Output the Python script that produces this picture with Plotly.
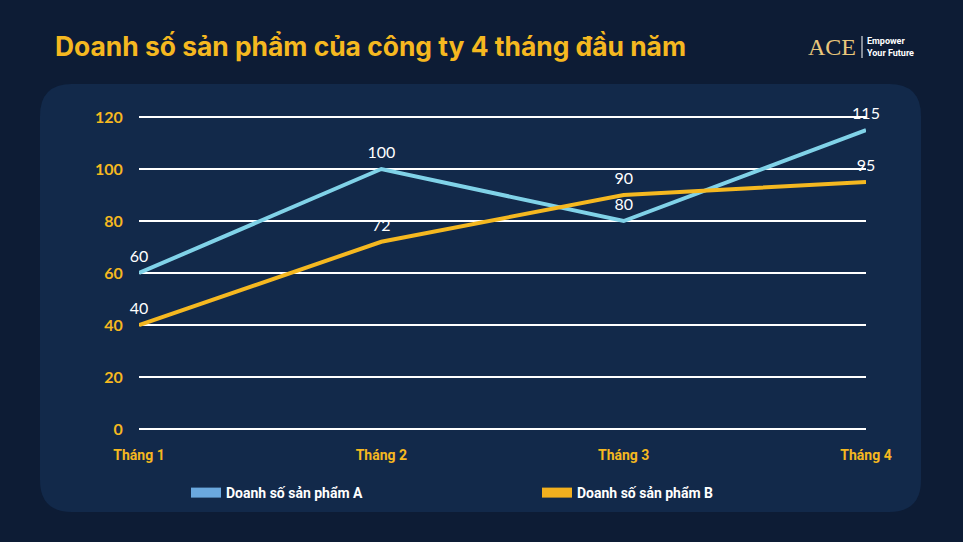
import plotly.graph_objects as go

# data
months = ["Tháng 1", "Tháng 2", "Tháng 3", "Tháng 4"]
sales_a = [60, 100, 80, 115]
sales_b = [40, 72, 90, 95]
name_a = "Doanh số sản phẩm A"
name_b = "Doanh số sản phẩm B"
y_ticks = [0, 20, 40, 60, 80, 100, 120]

W, H = 963, 542
gold = "#f5b820"
line_a = "#80d2e8"
line_b = "#f5b820"
leg_a = "#6aa8de"
leg_b = "#f2b01e"

fig = go.Figure()

# lines with white value labels (hidden markers push labels up a bit)
for vals, col in [(sales_a, line_a), (sales_b, line_b)]:
    fig.add_trace(go.Scatter(x=months, y=vals, mode="lines+markers+text", text=[str(v) for v in vals],
                             textposition="top center",
                             textfont=dict(color="white", size=16, family="Lato"),
                             marker=dict(size=10, opacity=0),
                             line=dict(color=col, width=4), showlegend=False, cliponaxis=False,
                             hoverinfo="skip"))

# legend-only entries (block style swatches)
fig.add_trace(go.Scatter(x=[None], y=[None], mode="lines", name="<b>" + name_a + "</b>",
                         line=dict(color=leg_a, width=12)))
fig.add_trace(go.Scatter(x=[None], y=[None], mode="lines", name="<b>" + name_b + "</b>",
                         line=dict(color=leg_b, width=12)))

# rounded panel behind the chart
x0, x1, y0, y1, r = 40 / W, 921 / W, 1 - 512 / H, 1 - 84 / H, 32
rx, ry = r / W, r / H
panel = (f"M {x0+rx},{y1} L {x1-rx},{y1} Q {x1},{y1} {x1},{y1-ry} "
         f"L {x1},{y0+ry} Q {x1},{y0} {x1-rx},{y0} L {x0+rx},{y0} "
         f"Q {x0},{y0} {x0},{y0+ry} L {x0},{y1-ry} Q {x0},{y1} {x0+rx},{y1} Z")
fig.add_shape(type="path", path=panel, xref="paper", yref="paper",
              fillcolor="#12294a", line=dict(width=0), layer="below")

fig.update_layout(
    width=W, height=H,
    margin=dict(l=0, r=0, t=0, b=0, pad=0),
    paper_bgcolor="#0d1c35",
    plot_bgcolor="rgba(0,0,0,0)",
    font=dict(family="Lato", color="white"),
    title=dict(text="<b>Doanh số sản phẩm của công ty 4 tháng đầu năm</b>",
               x=55 / W, xanchor="left", y=1 - 47 / H, yanchor="middle",
               font=dict(size=26.4, color=gold, family="Inter")),
    xaxis=dict(domain=[139 / W, 866 / W], range=[0, 3], showgrid=False, zeroline=False,
               showline=False, ticks="outside", ticklen=11, tickcolor="rgba(0,0,0,0)",
               automargin=False,
               tickfont=dict(color=gold, size=14, family="Roboto", weight="bold")),
    yaxis=dict(domain=[1 - 431.6 / H, 1 - 114.4 / H], range=[-1, 121], tickvals=y_ticks,
               showgrid=True, gridcolor="white", gridwidth=1.5, zeroline=False,
               showline=False, ticks="outside", ticklen=12, tickcolor="rgba(0,0,0,0)",
               automargin=False,
               tickfont=dict(color=gold, size=16, family="Lato", weight="bold")),
    legend=dict(orientation="h", x=186 / W, xanchor="left", y=1 - 493 / H, yanchor="middle",
                entrywidth=306, entrywidthmode="pixels", bgcolor="rgba(0,0,0,0)",
                font=dict(color="white", size=14, family="Roboto")),
    hovermode=False,
)

# ACE logo
fig.add_annotation(text="ACE", xref="paper", yref="paper", x=858 / W, y=1 - 47 / H,
                   xanchor="right", yanchor="middle", showarrow=False,
                   font=dict(family="Liberation Serif", size=24, color="#e9c77b"))
fig.add_shape(type="line", xref="paper", yref="paper", x0=862 / W, x1=862 / W,
              y0=1 - 58 / H, y1=1 - 36 / H, line=dict(color="white", width=1))
fig.add_annotation(text="<b>Empower</b><br><b>Your Future</b>", xref="paper", yref="paper",
                   x=865 / W, y=1 - 47 / H, xanchor="left", yanchor="middle", align="left",
                   showarrow=False, font=dict(family="Roboto", size=9, color="white"))

fig.write_html("out.html", config={"displayModeBar": False},
               post_script="document.body.style.margin='0';document.body.style.background='#0d1c35';")
